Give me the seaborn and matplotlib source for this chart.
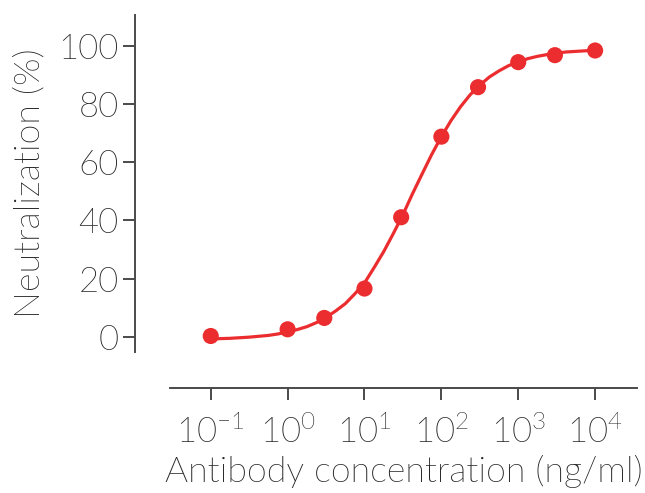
import numpy as np
import matplotlib
matplotlib.use("Agg")
import matplotlib.pyplot as plt
import matplotlib.font_manager as fm
import seaborn as sns

# measured points
conc = [0.1, 1, 3, 10, 30, 100, 300, 1000, 3000, 10000]
neutralization = [0.3, 2.6, 6.5, 16.6, 41.1, 68.8, 85.8, 94.4, 96.8, 98.4]

# fitted curve (log10 concentration -> %)
curve_logx = [-1.0, -0.875, -0.75, -0.625, -0.5, -0.375, -0.25, -0.125,
              0.0, 0.125, 0.25, 0.375, 0.5, 0.625, 0.75, 0.875,
              1.0, 1.125, 1.25, 1.375, 1.5, 1.625, 1.75, 1.875,
              2.0, 2.125, 2.25, 2.375, 2.5, 2.625, 2.75, 2.875,
              3.0, 3.125, 3.25, 3.375, 3.5, 3.625, 3.75, 3.875, 4.0]
curve_y = [-0.8, -0.6, -0.5, -0.3, -0.1, 0.2, 0.5, 1.0,
           1.7, 2.5, 3.5, 4.9, 6.7, 8.9, 11.4, 14.8,
           18.5, 23.8, 29.3, 35.5, 42.0, 49.2, 56.0, 62.7,
           68.8, 74.3, 79.1, 83.2, 86.5, 89.3, 91.4, 93.2,
           94.5, 95.6, 96.4, 97.0, 97.5, 97.9, 98.1, 98.3, 98.5]

red = "#ec2d2f"
axis_col = "#4a4a4a"
text_col = "#222222"

sns.set_style("ticks")
plt.rcParams["font.family"] = ["Lato", "DejaVu Sans"]
plt.rcParams["axes.unicode_minus"] = False

# look for the Lato Light file itself (weight matching picks a thinner cut)
light_file = None
for f in fm.fontManager.ttflist:
    name = f.fname.lower().split("/")[-1]
    if "lato" in name and "light" in name and "italic" not in name:
        light_file = f.fname
        break
if light_file:
    fp = fm.FontProperties(fname=light_file, size=25)
    fp_label = fm.FontProperties(fname=light_file, size=25.8)
else:
    fp = fm.FontProperties(family="Lato", size=25)
    fp_label = fm.FontProperties(family="Lato", size=25.8)

fig = plt.figure(figsize=(6.45, 4.93), dpi=100)
ax = fig.add_axes([170 / 645, 1 - 352 / 493, 467 / 645, 337 / 493])

sns.lineplot(x=10 ** np.array(curve_logx), y=curve_y, ax=ax, color=red, lw=2.3)
sns.scatterplot(x=conc, y=neutralization, ax=ax, color=red, s=135,
                edgecolor="none", zorder=3)

ax.set_xscale("log")
ax.set_xlim(10 ** -1.53, 10 ** 4.545)
ax.set_ylim(-5.2, 110.6)
ax.set_xticks([1e-1, 1e0, 1e1, 1e2, 1e3, 1e4])
ax.xaxis.set_minor_locator(matplotlib.ticker.NullLocator())
ax.set_yticks([0, 20, 40, 60, 80, 100])

sns.despine(ax=ax, offset={"left": 25, "bottom": 26})
for side in ["left", "bottom"]:
    ax.spines[side].set_color(axis_col)
    ax.spines[side].set_linewidth(1.4)
ax.tick_params(axis="both", colors=axis_col, width=1.4, length=8.3,
               labelcolor=text_col)
ax.tick_params(axis="y", pad=3.5)
ax.tick_params(axis="x", pad=11)
for lab in ax.get_xticklabels() + ax.get_yticklabels():
    lab.set_fontproperties(fp)

ax.set_xlabel("Antibody concentration (ng/ml)", fontproperties=fp_label,
              color=text_col, labelpad=4)
ax.set_ylabel("Neutralization (%)", fontproperties=fp_label, color=text_col,
              labelpad=9)

fig.savefig("out.png", dpi=100)
